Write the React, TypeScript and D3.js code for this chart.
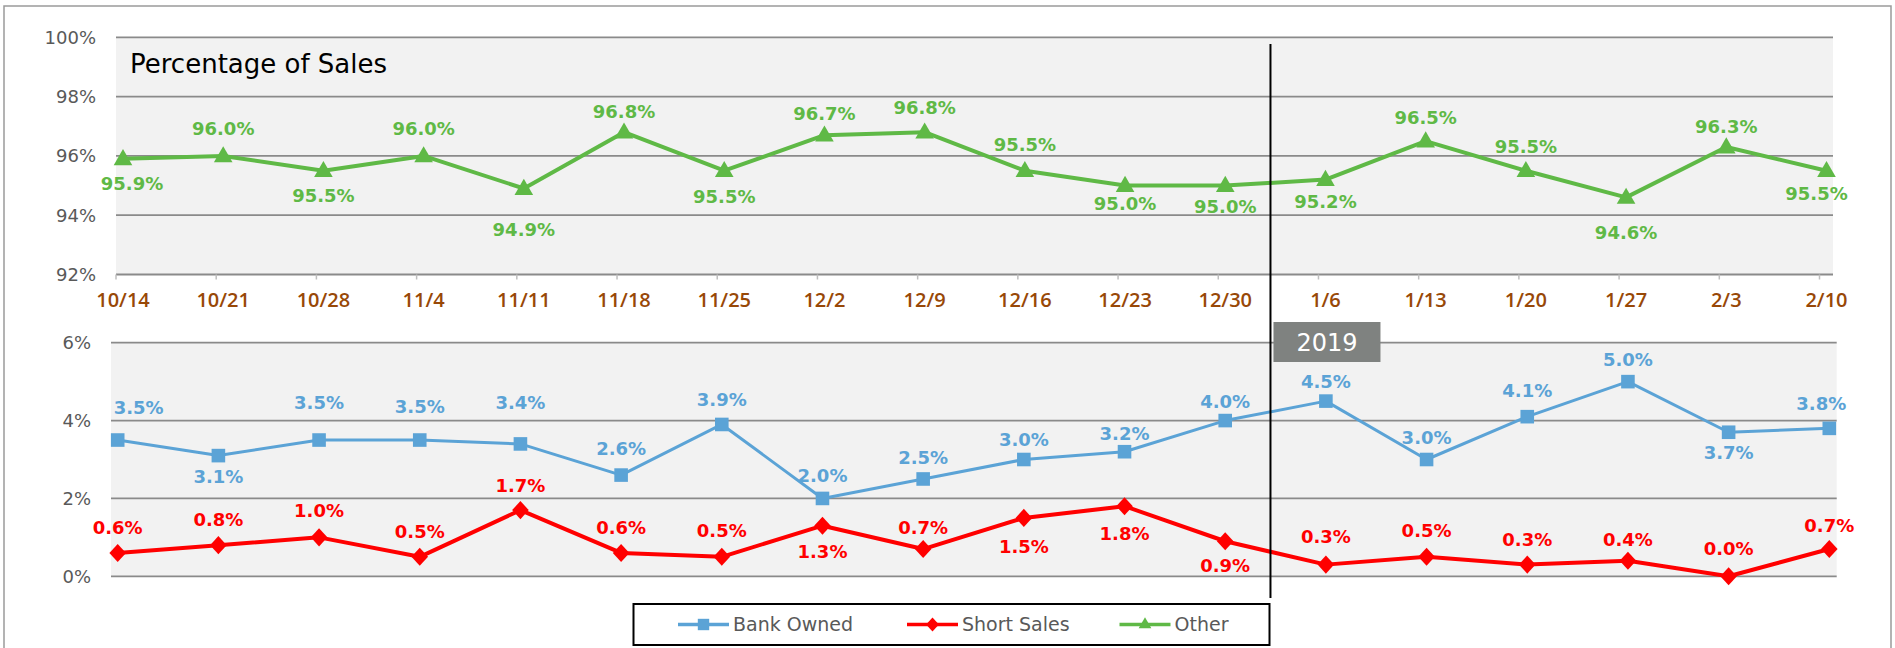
import React from "react";
import * as d3 from "d3";

const categories = ["10/14", "10/21", "10/28", "11/4", "11/11", "11/18", "11/25", "12/2", "12/9", "12/16", "12/23", "12/30", "1/6", "1/13", "1/20", "1/27", "2/3", "2/10"];
const otherValues = [95.9, 96.0, 95.5, 96.0, 94.9, 96.8, 95.5, 96.7, 96.8, 95.5, 95.0, 95.0, 95.2, 96.5, 95.5, 94.6, 96.3, 95.5];
const bankOwnedValues = [3.5, 3.1, 3.5, 3.5, 3.4, 2.6, 3.9, 2.0, 2.5, 3.0, 3.2, 4.0, 4.5, 3.0, 4.1, 5.0, 3.7, 3.8];
const shortSalesValues = [0.6, 0.8, 1.0, 0.5, 1.7, 0.6, 0.5, 1.3, 0.7, 1.5, 1.8, 0.9, 0.3, 0.5, 0.3, 0.4, 0.0, 0.7];
const topTicks = [92, 94, 96, 98, 100];
const bottomTicks = [0, 2, 4, 6];
const title = "Percentage of Sales";
const yearLabel = "2019";
const yearStartCategory = "1/6";
const seriesNames = ["Bank Owned", "Short Sales", "Other"];

// label placement (pixel offsets of label centre from its marker) — layout, not data
const otherLabelDy = [25, -27, 25, -27, 41, -21, 26, -22, -25, -26, 18, 21, 22, -24, -24, 35, -20, 23];
const bankLabelDy = [-33, 21, -38, -34, -41, -27, -25, -23, -21, -20, -18, -19, -20, -22, -26, -22, 20, -25];
const shortLabelDy = [-25, -26, -27, -25, -25, -25, -26, 26, -22, 29, 27, 24, -28, -26, -25, -21, -28, -24];
const otherLabelDx = [9, 0, 0, 0, 0, 0, 0, 0, 0, 0, 0, 0, 0, 0, 0, 0, 0, -10];
const bankLabelDx = [21, 0, 0, 0, 0, 0, 0, 0, 0, 0, 0, 0, 0, 0, 0, 0, 0, -8];

const GREEN = "#5FB946";
const BLUE = "#5BA3D6";
const RED = "#FF0000";
const GRID = "#8A8A8A";
const FONT = "DejaVu Sans";

// custom wide diamond symbol
const wideDiamond = {
  draw(ctx: any, size: number) {
    const h = Math.sqrt(size / 1.84);
    const w = h * 0.92;
    ctx.moveTo(0, -h);
    ctx.lineTo(w, 0);
    ctx.lineTo(0, h);
    ctx.lineTo(-w, 0);
    ctx.closePath();
  },
};

export default function App() {
  const W = 1895, H = 648;
  const xTop = d3.scalePoint<string>().domain(categories).range([123, 1826.5]);
  const xBot = d3.scalePoint<string>().domain(categories).range([117.7, 1829.3]);
  const yTop = d3.scaleLinear().domain([92, 100]).range([274.5, 37.3]);
  const yBot = d3.scaleLinear().domain([0, 6]).range([576.3, 342.7]);

  const topLeft = 116, topRight = 1833;
  const botLeft = 111, botRight = 1836.7;
  const tickOffset = -7;

  const lineTop = d3.line<number>().x((_, i) => xTop(categories[i])!).y((d) => yTop(d));
  const lineBot = d3.line<number>().x((_, i) => xBot(categories[i])!).y((d) => yBot(d));

  const tri = d3.symbol().type(d3.symbolTriangle).size(150)()!;
  const sq = d3.symbol().type(d3.symbolSquare).size(185)()!;
  const dia = d3.symbol().type(wideDiamond as any).size(150)()!;
  const triL = d3.symbol().type(d3.symbolTriangle).size(70)()!;
  const sqL = d3.symbol().type(d3.symbolSquare).size(130)()!;
  const diaL = d3.symbol().type(wideDiamond as any).size(90)()!;

  const fmt = (v: number) => v.toFixed(1) + "%";
  const labelStyle = { fontFamily: FONT, fontWeight: "bold" as const, fontSize: 18 };

  const yearX = xTop(yearStartCategory)! - 55;

  return (
    <svg width={W} height={H} style={{ position: "absolute", left: 0, top: 0, background: "#fff" }}>
      {/* outer border */}
      <rect x={4} y={6} width={1887} height={700} fill="none" stroke="#9A9A9A" strokeWidth={1.5} />

      {/* ===== top panel ===== */}
      <rect x={topLeft} y={yTop(100)} width={topRight - topLeft} height={yTop(92) - yTop(100)} fill="#F2F2F2" />
      {topTicks.map((t) => (
        <g key={"tg" + t}>
          <line x1={topLeft} x2={topRight} y1={yTop(t)} y2={yTop(t)} stroke={GRID} strokeWidth={1.8} />
          <text x={96} y={yTop(t)} dy="0.36em" textAnchor="end" fontFamily={FONT} fontSize={18} fill="#595959">
            {t}%
          </text>
        </g>
      ))}
      {categories.map((c) => (
        <g key={"xt" + c}>
          <line x1={xTop(c)! + tickOffset} x2={xTop(c)! + tickOffset} y1={yTop(92)} y2={yTop(92) + 5} stroke="#BFBFBF" strokeWidth={1.5} />
          <text x={xTop(c)!} y={307} textAnchor="middle" fontFamily="Open Sans" fontWeight={600} fontSize={20} fill="#984807">
            {c}
          </text>
        </g>
      ))}
      <text x={130} y={73} fontFamily={FONT} fontSize={26} fill="#000">
        {title}
      </text>
      <path d={lineTop(otherValues)!} fill="none" stroke={GREEN} strokeWidth={4} strokeLinejoin="round" />
      {otherValues.map((v, i) => (
        <path key={"om" + i} d={tri} transform={`translate(${xTop(categories[i])},${yTop(v) + 1})`} fill={GREEN} />
      ))}
      {otherValues.map((v, i) => (
        <text key={"ol" + i} x={xTop(categories[i])! + otherLabelDx[i]} y={yTop(v) + otherLabelDy[i]} dy="0.36em" textAnchor="middle" fill={GREEN} {...labelStyle}>
          {fmt(v)}
        </text>
      ))}

      {/* ===== bottom panel ===== */}
      <rect x={botLeft} y={yBot(6)} width={botRight - botLeft} height={yBot(0) - yBot(6)} fill="#F2F2F2" />
      {bottomTicks.map((t) => (
        <g key={"bg" + t}>
          <line x1={botLeft} x2={botRight} y1={yBot(t)} y2={yBot(t)} stroke={GRID} strokeWidth={1.8} />
          <text x={91} y={yBot(t)} dy="0.36em" textAnchor="end" fontFamily={FONT} fontSize={18} fill="#595959">
            {t}%
          </text>
        </g>
      ))}
      <path d={lineBot(bankOwnedValues)!} fill="none" stroke={BLUE} strokeWidth={3} strokeLinejoin="round" />
      <path d={lineBot(shortSalesValues)!} fill="none" stroke={RED} strokeWidth={4} strokeLinejoin="round" />
      {bankOwnedValues.map((v, i) => (
        <path key={"bm" + i} d={sq} transform={`translate(${xBot(categories[i])},${yBot(v)})`} fill={BLUE} />
      ))}
      {shortSalesValues.map((v, i) => (
        <path key={"sm" + i} d={dia} transform={`translate(${xBot(categories[i])},${yBot(v)})`} fill={RED} />
      ))}
      {bankOwnedValues.map((v, i) => (
        <text key={"bl" + i} x={xBot(categories[i])! + bankLabelDx[i]} y={yBot(v) + bankLabelDy[i]} dy="0.36em" textAnchor="middle" fill={BLUE} {...labelStyle}>
          {fmt(v)}
        </text>
      ))}
      {shortSalesValues.map((v, i) => (
        <text key={"sl" + i} x={xBot(categories[i])} y={yBot(v) + shortLabelDy[i]} dy="0.36em" textAnchor="middle" fill={RED} {...labelStyle}>
          {fmt(v)}
        </text>
      ))}

      {/* year divider */}
      <line x1={yearX} x2={yearX} y1={44} y2={598} stroke="#000" strokeWidth={2} />
      <rect x={yearX + 3} y={322} width={107} height={40} fill="#7F8280" />
      <text x={yearX + 56.5} y={342} dy="0.36em" textAnchor="middle" fontFamily={FONT} fontSize={24} fill="#fff">
        {yearLabel}
      </text>

      {/* legend */}
      <rect x={633.5} y={604} width={636} height={41} fill="#fff" stroke="#000" strokeWidth={2} />
      {seriesNames.map((name, i) => {
        const lx = [678, 907, 1119.5][i];
        const color = [BLUE, RED, GREEN][i];
        const sym = [sqL, diaL, triL][i];
        return (
          <g key={"lg" + name}>
            <line x1={lx} x2={lx + 51} y1={624.5} y2={624.5} stroke={color} strokeWidth={3.5} />
            <path d={sym} transform={`translate(${lx + 25.5},${624.5})`} fill={color} />
            <text x={lx + 55} y={624.5} dy="0.36em" fontFamily={FONT} fontSize={19} fill="#595959">
              {name}
            </text>
          </g>
        );
      })}
    </svg>
  );
}
